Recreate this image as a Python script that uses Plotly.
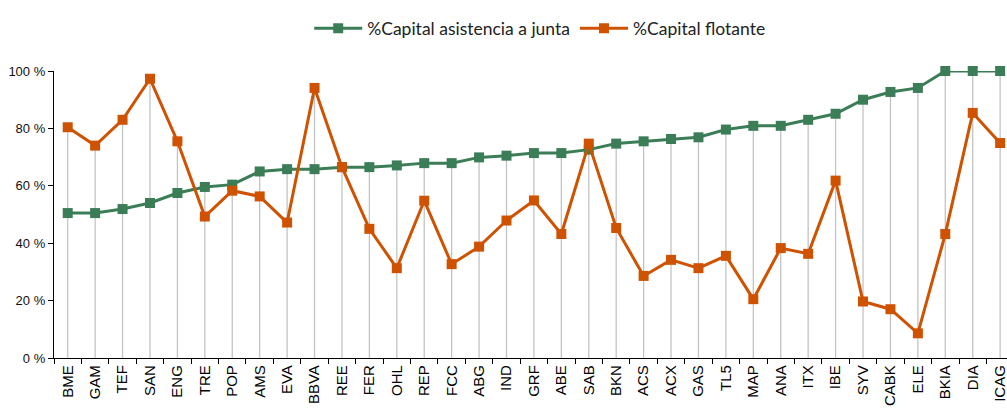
import plotly.graph_objects as go

categories = ["BME", "GAM", "TEF", "SAN", "ENG", "TRE", "POP", "AMS", "EVA", "BBVA",
              "REE", "FER", "OHL", "REP", "FCC", "ABG", "IND", "GRF", "ABE", "SAB",
              "BKN", "ACS", "ACX", "GAS", "TL5", "MAP", "ANA", "ITX", "IBE", "SYV",
              "CABK", "ELE", "BKIA", "DIA", "ICAG"]

asistencia = [50.5, 50.5, 51.9, 54.0, 57.5, 59.6, 60.4, 65.0, 65.8, 65.8,
              66.5, 66.5, 67.1, 67.9, 67.9, 69.9, 70.5, 71.4, 71.4, 72.6,
              74.7, 75.5, 76.3, 76.9, 79.6, 80.9, 80.9, 83.0, 85.1, 90.0,
              92.7, 94.1, 100.0, 100.0, 100.0]

flotante = [80.4, 74.0, 83.0, 97.3, 75.5, 49.3, 58.3, 56.3, 47.2, 94.1,
            66.5, 45.0, 31.3, 54.8, 32.7, 38.8, 47.9, 54.9, 43.2, 74.7,
            45.3, 28.6, 34.2, 31.3, 35.6, 20.5, 38.3, 36.3, 61.8, 19.7,
            17.0, 8.6, 43.2, 85.4, 74.9]

y_ticks = [0, 20, 40, 60, 80, 100]

GREEN = "#3b7d56"
ORANGE = "#cf5200"

idx = list(range(len(categories)))

# drop lines from the highest point of each category down to the axis
drop_x, drop_y = [], []
for i, (a, f) in enumerate(zip(asistencia, flotante)):
    drop_x += [i, i, None]
    drop_y += [0, max(a, f), None]

fig = go.Figure()
fig.add_trace(go.Scatter(x=drop_x, y=drop_y, mode="lines",
                         line=dict(color="#c4c4c4", width=1.3),
                         showlegend=False, hoverinfo="skip"))
fig.add_trace(go.Scatter(x=idx, y=asistencia, mode="lines+markers",
                         name="%Capital asistencia a junta",
                         line=dict(color=GREEN, width=3),
                         marker=dict(symbol="square", size=10, color=GREEN),
                         cliponaxis=False))
fig.add_trace(go.Scatter(x=idx, y=flotante, mode="lines+markers",
                         name="%Capital flotante   ",
                         line=dict(color=ORANGE, width=3),
                         marker=dict(symbol="square", size=10, color=ORANGE),
                         cliponaxis=False))

fig.update_layout(
    width=1007, height=410,
    margin=dict(l=54, r=0, t=71, b=52),
    paper_bgcolor="white", plot_bgcolor="white",
    showlegend=True,
    legend=dict(orientation="h", x=0.517, xanchor="center", y=0.975, yref="container",
                yanchor="top", font=dict(family="Lato", size=17.5, color="#222222"),
                itemwidth=48, traceorder="normal"),
    xaxis=dict(range=[-0.5, 34.25], tickvals=idx, ticktext=categories,
               tickangle=-90, showgrid=False, zeroline=False,
               showline=True, linecolor="black", linewidth=1.3,
               ticks="", automargin=False, ticklabeloverflow="allow",
               tickfont=dict(family="Arial, Liberation Sans", size=15, color="#000000"),
               minor=dict(tickvals=[i + 0.5 for i in idx[:-1]] + [-0.5],
                          ticks="outside", ticklen=5, tickcolor="black",
                          showgrid=False)),
    yaxis=dict(range=[0, 100], tickvals=y_ticks,
               ticktext=[f"{v} %" for v in y_ticks],
               showgrid=False, zeroline=False, showline=True,
               linecolor="black", linewidth=1.3, ticks="outside", ticklen=5,
               tickcolor="black", automargin=False,
               tickfont=dict(family="Arial, Liberation Sans", size=13, color="#111111")),
)

fig.write_html("out.html", config={"displayModeBar": False},
               post_script="document.body.style.margin='0';")
